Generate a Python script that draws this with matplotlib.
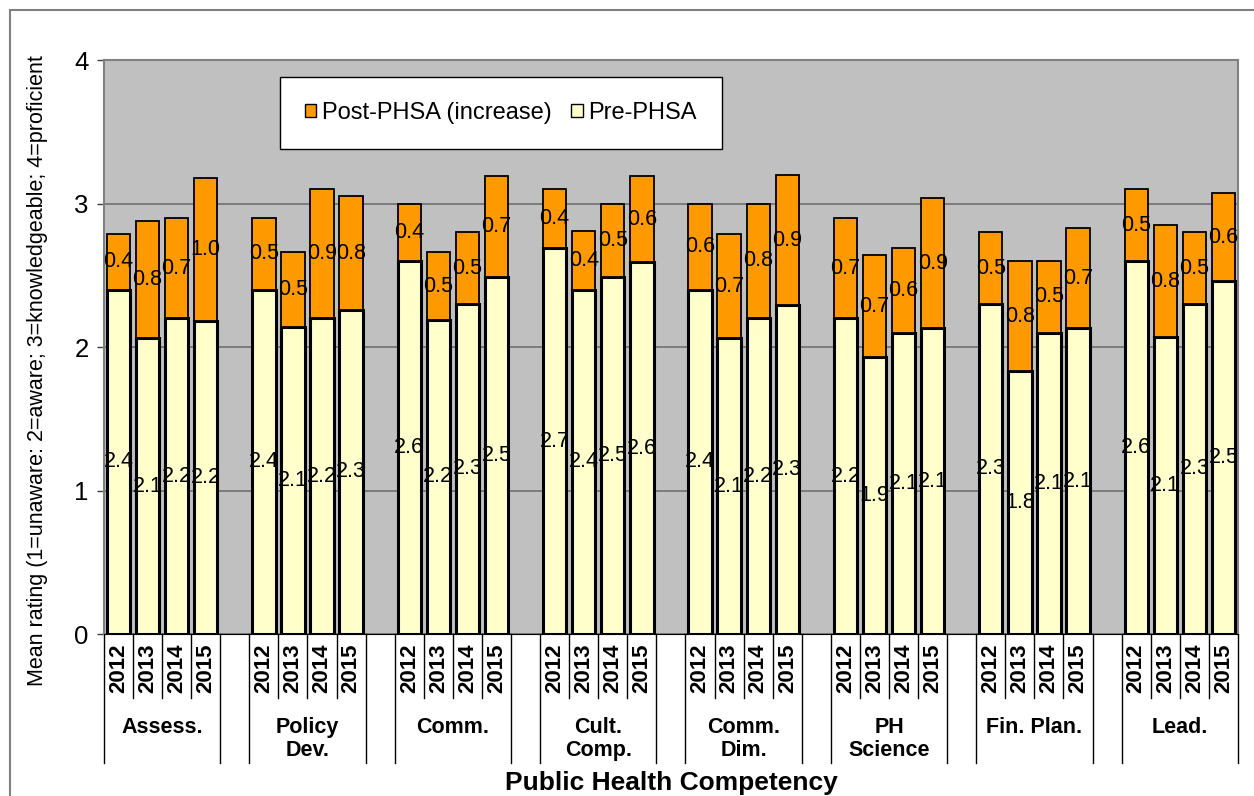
import numpy as np
import matplotlib
matplotlib.use("Agg")
import matplotlib.pyplot as plt
from matplotlib.patches import Patch
from matplotlib.lines import Line2D
import matplotlib.transforms as mtransforms

plt.rcParams['font.family'] = ['Liberation Sans', 'DejaVu Sans']

# Competency areas and survey years
groups = ["Assess.", "Policy\nDev.", "Comm.", "Cult.\nComp.", "Comm.\nDim.",
          "PH\nScience", "Fin. Plan.", "Lead."]
years = ["2012", "2013", "2014", "2015"]

# Mean rating before PHSA, per group (2012..2015)
pre_assess = [2.40, 2.06, 2.20, 2.18]
pre_policy = [2.40, 2.14, 2.20, 2.26]
pre_comm = [2.60, 2.19, 2.30, 2.49]
pre_cult = [2.69, 2.40, 2.49, 2.59]
pre_commdim = [2.40, 2.06, 2.20, 2.29]
pre_phsci = [2.20, 1.93, 2.10, 2.13]
pre_finplan = [2.30, 1.83, 2.10, 2.13]
pre_lead = [2.60, 2.07, 2.30, 2.46]

# Increase after PHSA, per group (2012..2015)
inc_assess = [0.39, 0.82, 0.70, 1.00]
inc_policy = [0.50, 0.52, 0.90, 0.79]
inc_comm = [0.40, 0.47, 0.50, 0.70]
inc_cult = [0.41, 0.41, 0.51, 0.60]
inc_commdim = [0.60, 0.73, 0.80, 0.91]
inc_phsci = [0.70, 0.71, 0.59, 0.91]
inc_finplan = [0.50, 0.77, 0.50, 0.70]
inc_lead = [0.50, 0.78, 0.50, 0.61]

pre = np.array([pre_assess, pre_policy, pre_comm, pre_cult,
                pre_commdim, pre_phsci, pre_finplan, pre_lead])
inc = np.array([inc_assess, inc_policy, inc_comm, inc_cult,
                inc_commdim, inc_phsci, inc_finplan, inc_lead])

ORANGE = "#FF9900"
CREAM = "#FFFFCC"
narrow = ['Liberation Sans Narrow', 'Liberation Sans', 'DejaVu Sans']

fig = plt.figure(figsize=(12.54, 7.96), dpi=100)
ax = fig.add_axes([0.0829, 0.2035, 0.9043, 0.7211])
ax.set_facecolor("#C0C0C0")

# one blank slot between groups
ng, ny = pre.shape
xs = np.array([g * (ny + 1) + i for g in range(ng) for i in range(ny)])
pre_f = pre.ravel()
inc_f = inc.ravel()

ax.bar(xs, pre_f, width=0.8, color=CREAM, edgecolor="black", linewidth=2.2, zorder=3)
ax.bar(xs, inc_f, width=0.8, bottom=pre_f, color=ORANGE, edgecolor="black",
       linewidth=1.3, zorder=3)

for x, p, d in zip(xs, pre_f, inc_f):
    ax.text(x, p / 2, f"{p:.1f}", ha="center", va="center", fontsize=15.5,
            family=narrow, color="black", zorder=4)
    ax.text(x, p + d / 2, f"{d:.1f}", ha="center", va="center", fontsize=15.5,
            family=narrow, color="black", zorder=4)

ax.set_xlim(-0.5, xs[-1] + 0.5)
ax.set_ylim(0, 4)
ax.set_yticks([0, 1, 2, 3, 4])
ax.tick_params(axis="y", labelsize=18.5, length=5, width=1, pad=6, color="#404040")
ax.yaxis.grid(True, color="#707070", linewidth=1.2, zorder=1)
ax.set_axisbelow(True)
for side in ["top", "right", "left"]:
    ax.spines[side].set_color("#808080")
    ax.spines[side].set_linewidth(1.5)
ax.spines["bottom"].set_color("black")

# year labels and the two-level category axis
ax.set_xticks(xs, [years[i] for g in range(ng) for i in range(ny)],
              rotation=90, fontweight="bold", fontsize=16)
ax.tick_params(axis="x", length=0, pad=7)

trans = mtransforms.blended_transform_factory(ax.transData, ax.transAxes)
for g in range(ng):
    start = g * (ny + 1)
    for i in range(ny - 1):
        ax.plot([start + i + 0.5] * 2, [0, -0.1115], color="black", lw=1,
                transform=trans, clip_on=False)
    for edge in (start - 0.5, start + ny - 0.5):
        ax.plot([edge] * 2, [0, -0.2247], color="black", lw=1,
                transform=trans, clip_on=False)
    ax.text(start + (ny - 1) / 2, -0.1446, groups[g], transform=trans,
            ha="center", va="top", fontsize=15.5, fontweight="bold",
            linespacing=1.1)

fig.text(0.5355, 0.0163, "Public Health Competency", ha="center", va="center",
         fontsize=19, fontweight="bold")
fig.text(0.0303, 0.534, "Mean rating (1=unaware: 2=aware; 3=knowledgeable; 4=proficient",
         rotation=90, ha="center", va="center", fontsize=15.5)

handles = [Patch(facecolor=ORANGE, edgecolor="black", linewidth=1),
           Patch(facecolor=CREAM, edgecolor="black", linewidth=1)]
leg = ax.legend(handles, ["Post-PHSA (increase)", "Pre-PHSA"], ncol=2,
                loc="upper left", bbox_to_anchor=(0.155, 0.9704),
                borderaxespad=0, fontsize=17, frameon=True, fancybox=False,
                borderpad=1.05, handlelength=0.5, handleheight=0.5,
                handletextpad=0.25, columnspacing=0.8)
leg.get_frame().set_edgecolor("black")
leg.get_frame().set_linewidth(1)
leg.get_frame().set_alpha(1)
leg.set_zorder(5)

# chart border
fig.add_artist(Line2D([0.008, 1.0], [0.9874, 0.9874], color="#808080", lw=1.5))
fig.add_artist(Line2D([0.008, 0.008], [0.0, 0.9874], color="#808080", lw=1.5))

fig.savefig("out.png", dpi=100)
